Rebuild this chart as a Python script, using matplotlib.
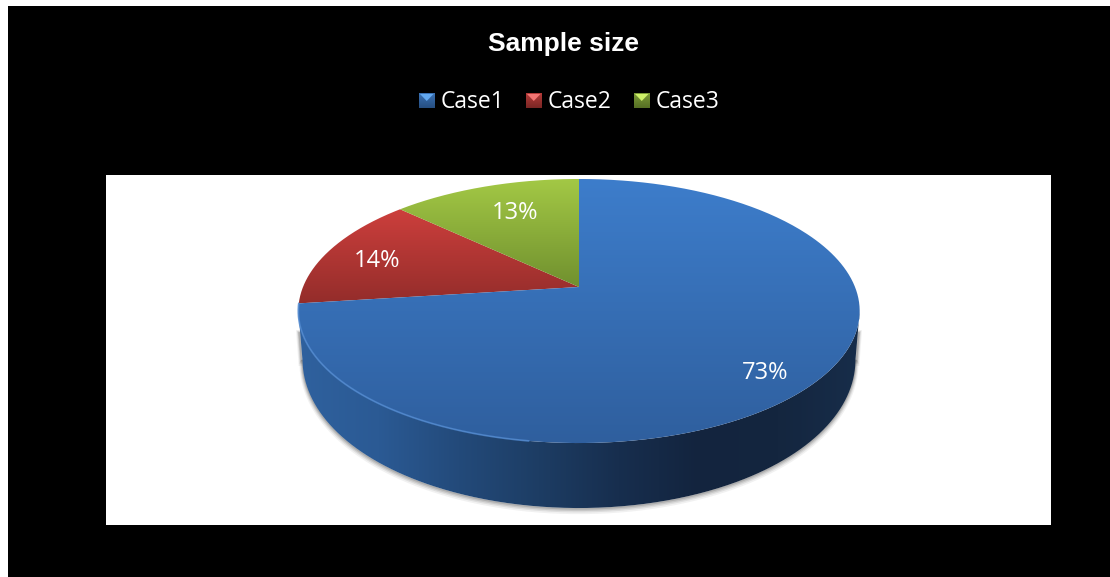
import numpy as np
import matplotlib
matplotlib.use("Agg")
import matplotlib.pyplot as plt
from matplotlib.patches import PathPatch, Rectangle
from matplotlib.path import Path
from matplotlib.colors import LinearSegmentedColormap

# Chart data
categories = ["Case1", "Case2", "Case3"]
shares = [73, 14, 13]
top_colors = [("#3d7dcb", "#2f5f9e"), ("#cf403d", "#922c2a"), ("#a3c845", "#6f8f2e")]
top_spans = [(179, 443), (205, 306), (179, 290)]
title_text = "Sample size"

W, H = 1110, 577
fig = plt.figure(figsize=(W / 100, H / 100), dpi=100, facecolor="white")
ax = fig.add_axes([0, 0, 1, 1])
ax.set_xlim(0, W)
ax.set_ylim(H, 0)
ax.axis("off")

# Panels
ax.add_patch(Rectangle((8, 6), W - 8, H - 6, fc="black", ec="none", zorder=0))
ax.add_patch(Rectangle((106, 175), 945, 350, fc="white", ec="none", zorder=1))

# Perspective projection of the pie disc
CX, APEX_Y, K, C, A = 579.0, 287.0, 276.0, 0.1818, -75.5


def project(theta):
    """Screen position of a disc point; theta runs clockwise from twelve o'clock."""
    u, v = np.sin(theta), np.cos(theta)
    d = 1 + C * v
    return CX + K * u / d, (A * v + APEX_Y) / d


def project_base(theta, extra=0.0):
    """Matching point on the lower disc, which recedes slightly in perspective."""
    x, y = project(theta)
    return CX + 0.985 * (x - CX), y + 45 - 20 * np.cos(theta) + extra


def wedge_path(t0, t1):
    ts = np.linspace(t0, t1, 300)
    x, y = project(ts)
    return Path(np.c_[np.r_[CX, x, CX], np.r_[APEX_Y, y, APEX_Y]])


def gradient(path, colors, box, vertical=True, z=3):
    cmap = LinearSegmentedColormap.from_list("g", colors)
    ramp = np.linspace(0, 1, 256)
    data = ramp[:, None] if vertical else ramp[None, :]
    x0, x1, y0, y1 = box
    im = ax.imshow(data, cmap=cmap, extent=(x0, x1, y1, y0), aspect="auto",
                   zorder=z, interpolation="bilinear", vmin=0, vmax=1)
    patch = PathPatch(path, fc="none", ec="none", transform=ax.transData)
    ax.add_patch(patch)
    im.set_clip_path(patch)


# Outline of the extruded wall, from one visible extreme to the other
side = np.arccos(-C)
ts = np.linspace(side, 2 * np.pi - side, 400)
wx, wy = project(ts)
bx, by = project_base(ts)
wall = Path(np.c_[np.r_[wx, bx[::-1], wx[0]], np.r_[wy, by[::-1], wy[0]]])

# Soft drop shadow hugging the wall
for extra, lw, alpha in zip((3.0, 2.2, 1.5, 0.8), (4.5, 3.2, 2.2, 1.2), (0.08, 0.12, 0.16, 0.22)):
    sx, sy = project_base(ts, extra)
    ax.plot(sx, sy, color="#555555", lw=lw, alpha=alpha, zorder=2, solid_capstyle="round")
    ax.plot([wx[0] - 1, sx[0] + 1], [wy[0] + 22, sy[0]], color="#555555", lw=lw, alpha=alpha, zorder=2)
    ax.plot([wx[-1] + 1, sx[-1] - 1], [wy[-1] + 22, sy[-1]], color="#555555", lw=lw, alpha=alpha, zorder=2)

gradient(wall, ["#2f619e", "#2b5a94", "#234a7a", "#1d3d64", "#172e4e", "#13243e", "#14263f", "#172d4a"],
         (298, 860, 280, 520), vertical=False, z=3)

# Pie top, clockwise from twelve o'clock
edges = np.cumsum([0] + shares) / sum(shares) * 2 * np.pi
for i in (1, 2, 0):
    y0, y1 = top_spans[i]
    gradient(wedge_path(edges[i], edges[i + 1]), top_colors[i], (298, 860, y0, y1), z=4)

# Bevelled rim along the lit front-left edge of the blue slice
rt = np.linspace(np.pi + 0.15, edges[1], 300)
rx, ry = project(rt)
ax.plot(rx, ry, color="#4f88cf", lw=1.3, alpha=0.8, zorder=5, solid_capstyle="round")

# Slice labels
label_pos = [(765, 373), (377, 261), (515, 213)]
for share, (lx, ly) in zip(shares, label_pos):
    ax.text(lx, ly, f"{share}%", color="white", fontsize=17, family="Open Sans",
            ha="center", va="center", zorder=6)

# Title
ax.text(564, 44, title_text, color="white", fontsize=19, fontweight="bold",
        family="Liberation Sans", ha="center", va="center", zorder=6)

# Legend with small bevelled swatches
swatch_x = [419, 526, 634]
text_x = [441, 548, 656]
swatch_light = ["#62a8f0", "#f27472", "#cdf068"]
swatch_mid = ["#3c74b8", "#b83c3a", "#7f9f38"]
swatch_dark = ["#264e80", "#7a2624", "#566f24"]
for name, sx, tx, hi, mid, lo in zip(categories, swatch_x, text_x, swatch_light, swatch_mid, swatch_dark):
    box = Path([(sx, 93), (sx + 15.5, 93), (sx + 15.5, 108.5), (sx, 108.5), (sx, 93)])
    gradient(box, [mid, lo], (sx, sx + 15.5, 93, 108.5), z=5)
    ax.add_patch(PathPatch(Path([(sx + 1, 94), (sx + 14.5, 94), (sx + 7.75, 101), (sx + 1, 94)]),
                           fc=hi, ec="none", zorder=6))
    ax.text(tx, 101.5, name, color="white", fontsize=16.5, family="Open Sans",
            ha="left", va="center", zorder=6)

fig.savefig("out.png", dpi=100, facecolor="white")
